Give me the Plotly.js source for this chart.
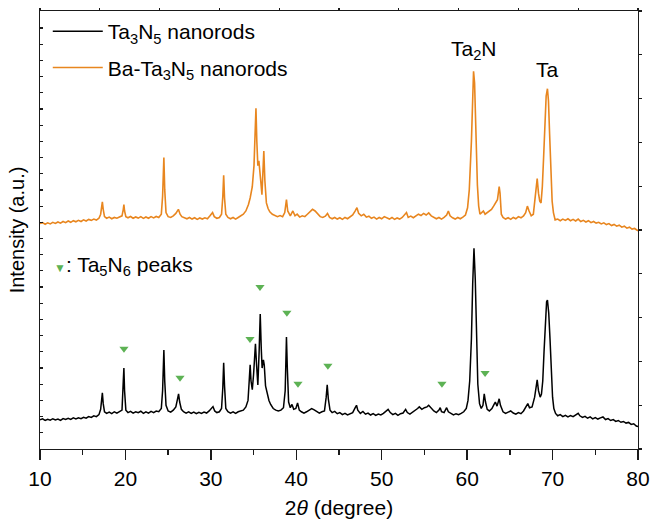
<!DOCTYPE html>
<html>
<head>
<meta charset="utf-8">
<script src="https://cdn.plot.ly/plotly-3.0.1.min.js"></script>
<style>html,body{margin:0;padding:0;background:#fff;}#chart{width:652px;height:519px;}</style>
</head>
<body>
<div id="chart"></div>
<script>
// ---- Data (2θ in degrees, intensity in a.u.) ----
const xTa3N5 = [10.0,10.3,10.6,10.9,11.2,11.5,11.8,12.1,12.4,12.7,13.0,13.3,13.6,13.9,14.2,14.5,14.8,15.1,15.4,15.7,16.0,16.3,16.6,16.9,17.1,17.2,17.3,17.4,17.55,17.8,18.1,18.4,18.7,19.0,19.3,19.6,19.75,19.82,19.9,20.05,20.3,20.6,20.9,21.2,21.5,21.8,22.1,22.4,22.7,23.0,23.3,23.6,23.9,24.2,24.35,24.5,24.6,24.75,25.0,25.3,25.6,25.9,26.1,26.22,26.35,26.55,26.8,27.1,27.4,27.7,28.0,28.3,28.6,28.9,29.2,29.5,29.8,30.1,30.25,30.45,30.7,31.0,31.25,31.4,31.5,31.6,31.75,32.0,32.3,32.6,32.9,33.2,33.5,33.8,34.1,34.35,34.5,34.6,34.7,34.85,35.0,35.15,35.22,35.35,35.5,35.65,35.78,35.9,36.0,36.15,36.25,36.4,36.6,36.8,37.0,37.3,37.6,37.9,38.2,38.5,38.7,38.85,38.95,39.1,39.3,39.5,39.7,39.95,40.15,40.35,40.6,40.9,41.2,41.5,41.8,42.1,42.4,42.7,43.0,43.3,43.5,43.62,43.75,43.95,44.2,44.5,44.8,45.1,45.4,45.7,46.0,46.3,46.6,46.9,47.05,47.2,47.5,47.8,48.1,48.4,48.7,49.0,49.3,49.6,49.9,50.2,50.5,50.75,51.0,51.3,51.6,51.9,52.2,52.5,52.8,53.0,53.3,53.6,53.9,54.2,54.4,54.7,55.0,55.3,55.5,55.8,56.1,56.4,56.7,56.85,57.0,57.3,57.6,57.8,58.1,58.4,58.7,59.0,59.3,59.6,59.9,60.1,60.3,60.5,60.65,60.8,60.95,61.1,61.25,61.45,61.65,61.85,62.0,62.15,62.35,62.6,62.9,63.15,63.3,63.5,63.75,63.9,64.2,64.5,64.8,65.1,65.4,65.7,66.0,66.3,66.6,66.9,67.1,67.3,67.6,67.9,68.05,68.2,68.35,68.55,68.7,68.85,69.0,69.15,69.3,69.4,69.55,69.7,69.85,70.0,70.15,70.35,70.6,70.9,71.2,71.5,71.8,72.1,72.4,72.7,73.0,73.2,73.5,73.8,74.1,74.4,74.7,75.0,75.3,75.6,75.9,76.2,76.5,76.8,77.1,77.4,77.7,78.0,78.3,78.6,78.9,79.2,79.5,79.8,80.0];
const yTa3N5 = [1.80,1.86,1.76,1.84,1.78,1.87,1.80,1.85,1.77,1.88,1.82,1.90,1.83,1.92,1.86,1.93,1.87,1.96,1.90,2.00,1.95,2.05,2.00,2.12,2.45,2.9,3.47,2.8,2.3,2.2,2.28,2.18,2.3,2.22,2.32,2.4,4.2,5.0,3.6,2.4,2.25,2.33,2.22,2.3,2.24,2.33,2.2,2.3,2.22,2.32,2.25,2.34,2.3,2.5,3.6,6.12,4.2,2.7,2.35,2.28,2.4,2.6,3.1,3.4,2.9,2.45,2.3,2.22,2.3,2.2,2.28,2.18,2.27,2.2,2.28,2.22,2.35,2.55,2.62,2.35,2.25,2.3,2.5,3.8,5.33,3.9,2.5,2.3,2.22,2.3,2.2,2.3,2.35,2.4,2.6,3.0,4.3,5.2,4.2,3.66,4.6,6.3,6.5,5.2,3.95,6.0,8.34,6.2,5.0,5.5,5.2,3.9,3.4,3.0,2.75,2.5,2.4,2.35,2.4,2.55,3.6,6.92,5.0,2.9,2.55,2.75,2.45,2.5,2.85,2.4,2.3,2.22,2.3,2.4,2.5,2.42,2.3,2.22,2.3,2.35,3.2,3.97,3.1,2.4,2.25,2.32,2.18,2.25,2.12,2.2,2.1,2.18,2.25,2.55,2.7,2.4,2.2,2.32,2.15,2.22,2.1,2.18,2.08,2.16,2.1,2.2,2.35,2.45,2.25,2.12,2.2,2.08,2.18,2.22,2.45,2.25,2.15,2.25,2.35,2.5,2.6,2.45,2.55,2.6,2.7,2.5,2.35,2.25,2.4,2.55,2.3,2.25,2.55,2.3,2.2,2.1,2.18,2.12,2.2,2.3,2.5,3.0,4.2,6.8,10.2,12.4,10.5,6.5,4.0,2.8,2.5,2.7,3.4,2.9,2.45,2.35,2.5,2.75,2.9,2.65,3.1,2.7,2.3,2.2,2.28,2.35,2.22,2.15,2.25,2.18,2.35,2.6,2.8,2.55,2.6,3.2,3.9,4.27,3.6,3.2,3.4,4.2,6.0,8.0,9.1,9.2,8.4,6.8,4.8,3.2,2.5,2.2,2.05,2.12,2.0,2.08,1.98,2.06,2.0,2.1,2.2,2.05,1.95,2.02,1.9,1.98,1.86,1.94,1.85,1.92,1.98,1.82,1.88,1.76,1.82,1.7,1.76,1.65,1.7,1.6,1.64,1.52,1.56,1.42,1.38];

const xBaTa3N5 = [10.0,10.3,10.6,10.9,11.2,11.5,11.8,12.1,12.4,12.7,13.0,13.3,13.6,13.9,14.2,14.5,14.8,15.1,15.4,15.7,16.0,16.3,16.6,16.9,17.1,17.2,17.3,17.4,17.55,17.8,18.1,18.4,18.7,19.0,19.3,19.6,19.75,19.82,19.9,20.05,20.3,20.6,20.9,21.2,21.5,21.8,22.1,22.4,22.7,23.0,23.3,23.6,23.9,24.2,24.35,24.5,24.6,24.75,25.0,25.3,25.6,25.9,26.2,26.4,26.6,26.9,27.2,27.5,27.8,28.1,28.4,28.7,29.0,29.3,29.6,29.9,30.2,30.4,30.7,31.0,31.25,31.4,31.5,31.6,31.75,32.0,32.3,32.6,32.9,33.2,33.5,33.8,34.1,34.4,34.6,34.85,35.05,35.2,35.28,35.38,35.5,35.62,35.72,35.85,35.98,36.1,36.2,36.32,36.5,36.7,36.9,37.2,37.5,37.8,38.1,38.4,38.65,38.85,39.0,39.3,39.6,39.85,40.1,40.4,40.7,41.0,41.3,41.6,41.9,42.2,42.5,42.8,43.1,43.4,43.65,43.9,44.2,44.5,44.8,45.1,45.4,45.7,46.0,46.3,46.6,46.9,47.1,47.3,47.6,47.9,48.2,48.5,48.8,49.1,49.4,49.7,50.0,50.3,50.6,50.9,51.2,51.5,51.8,52.1,52.4,52.7,52.9,53.1,53.4,53.7,54.0,54.3,54.6,54.9,55.2,55.5,55.8,56.1,56.4,56.7,57.0,57.3,57.6,57.8,58.0,58.3,58.6,58.9,59.2,59.5,59.8,60.05,60.25,60.5,60.62,60.75,60.87,61.05,61.2,61.35,61.5,61.7,61.9,62.1,62.35,62.6,62.85,63.1,63.35,63.55,63.75,63.85,64.0,64.2,64.5,64.8,65.1,65.4,65.7,66.0,66.3,66.6,66.85,67.05,67.25,67.5,67.75,67.95,68.1,68.2,68.35,68.5,68.65,68.8,68.95,69.1,69.25,69.4,69.52,69.65,69.8,69.95,70.1,70.3,70.6,70.9,71.2,71.5,71.8,72.1,72.4,72.7,73.0,73.3,73.6,73.9,74.2,74.5,74.8,75.1,75.4,75.7,76.0,76.3,76.6,76.9,77.2,77.5,77.8,78.1,78.4,78.7,79.0,79.3,79.6,79.8,80.0];
const yBaTa3N5 = [13.92,13.98,13.88,13.97,13.9,14.0,13.93,14.02,13.95,14.05,13.98,14.08,14.0,14.1,14.03,14.12,14.05,14.15,14.08,14.18,14.12,14.2,14.14,14.25,14.5,14.9,15.27,14.8,14.35,14.25,14.32,14.22,14.3,14.25,14.35,14.4,14.8,15.1,14.7,14.35,14.28,14.36,14.25,14.33,14.26,14.35,14.24,14.33,14.25,14.35,14.27,14.36,14.3,14.5,15.6,18.0,16.0,14.6,14.35,14.3,14.4,14.55,14.8,14.5,14.35,14.28,14.22,14.3,14.2,14.28,14.18,14.27,14.2,14.28,14.22,14.4,14.6,14.35,14.25,14.3,14.5,15.6,16.9,15.5,14.5,14.3,14.22,14.3,14.2,14.3,14.38,14.5,14.7,15.1,15.5,16.2,17.5,20.0,21.04,19.0,17.5,17.8,17.0,16.5,15.7,17.0,18.4,16.6,15.2,14.85,14.65,14.5,14.4,14.35,14.42,14.35,14.6,15.4,14.7,14.4,14.7,14.4,14.5,14.32,14.4,14.35,14.5,14.65,14.8,14.7,14.5,14.35,14.3,14.38,14.55,14.3,14.22,14.3,14.2,14.28,14.18,14.3,14.22,14.35,14.45,14.7,14.9,14.55,14.4,14.5,14.32,14.38,14.25,14.32,14.2,14.3,14.22,14.35,14.28,14.2,14.3,14.18,14.27,14.2,14.3,14.45,14.6,14.3,14.38,14.28,14.4,14.5,14.42,14.55,14.45,14.58,14.4,14.3,14.22,14.3,14.2,14.3,14.45,14.7,14.4,14.28,14.2,14.3,14.22,14.32,14.45,14.9,16.0,19.0,21.8,23.33,22.6,18.8,16.3,15.0,14.5,14.6,14.7,14.5,14.6,14.75,14.8,15.0,15.2,15.4,16.2,15.8,14.5,14.3,14.2,14.28,14.18,14.3,14.22,14.35,14.28,14.4,14.6,15.0,14.7,14.4,14.5,15.5,16.5,16.7,15.8,15.3,15.2,16.2,18.0,20.5,21.8,22.25,21.5,19.5,17.0,15.3,14.6,14.15,14.2,14.1,14.2,14.12,14.22,14.1,14.18,14.08,14.2,14.05,14.12,14.02,14.1,13.98,14.05,13.95,14.0,13.9,13.97,13.86,13.92,13.8,13.87,13.76,13.82,13.7,13.76,13.64,13.7,13.58,13.62,13.52,13.48];

// Ta5N6 peak markers
const xTa5N6 = [19.83, 26.39, 34.58, 35.75, 38.9, 40.2, 43.7, 57.05, 62.1];
const yTa5N6 = [6.19, 4.40, 6.80, 10.01, 8.41, 4.03, 5.14, 4.03, 4.70];

// Phase labels on the Ba-Ta3N5 pattern
const phaseLabels = ['Ta<sub>2</sub>N', 'Ta'];
const phaseX = [60.8, 69.4];
const phaseY = [23.7, 22.6];

const seriesNames = ['Ta<sub>3</sub>N<sub>5</sub> nanorods', 'Ba-Ta<sub>3</sub>N<sub>5</sub> nanorods'];
const xTicks = [10, 20, 30, 40, 50, 60, 70, 80];

// ---- Styling ----
const FONT = 'Liberation Sans, Arial, Helvetica, sans-serif';
const ORANGE = '#E8861F';
const GREEN = '#5DB254';
const AX = '#1a1a1a';
const FS = 21;

const traces = [
  {x: xTa3N5, y: yTa3N5, type: 'scatter', mode: 'lines', name: seriesNames[0],
   line: {color: '#000000', width: 1.5}, legendgroup: 'a', hoverinfo: 'skip'},
  {x: xBaTa3N5, y: yBaTa3N5, type: 'scatter', mode: 'lines', name: seriesNames[1],
   line: {color: ORANGE, width: 1.6}, legendgroup: 'b', hoverinfo: 'skip'},
  {x: xTa5N6, y: yTa5N6, type: 'scatter', mode: 'markers', showlegend: false,
   marker: {symbol: 'triangle-down', size: 8, color: GREEN}, hoverinfo: 'skip'},
  {x: [null], y: [null], xaxis: 'x2', yaxis: 'y2', type: 'scatter', mode: 'lines', showlegend: false, hoverinfo: 'skip'}
];

const layout = {
  width: 652, height: 519,
  margin: {l: 40, r: 14, t: 11, b: 70},
  paper_bgcolor: '#fff', plot_bgcolor: '#fff',
  font: {family: FONT, size: FS, color: '#000'},
  showlegend: true,
  legend: {x: 0.013, y: 1.0, xanchor: 'left', yanchor: 'top', bgcolor: 'rgba(0,0,0,0)',
           font: {family: FONT, size: FS, color: '#000'}, tracegroupgap: 6, itemwidth: 50},
  xaxis: {range: [10, 80], tickvals: xTicks, ticks: 'outside', ticklen: 10, tickwidth: 1.3, tickcolor: AX,
          showline: true, linecolor: AX, linewidth: 1.3, showgrid: false, zeroline: false,
          tickfont: {family: FONT, size: FS, color: '#000'},
          minor: {dtick: 5, tick0: 10, ticks: 'outside', ticklen: 5, tickwidth: 1.3, tickcolor: AX, showgrid: false},
          title: {text: '2<i>θ</i> (degree)', font: {family: FONT, size: FS, color: '#000'}, standoff: 14}},
  yaxis: {range: [0, 27.05], dtick: 1, tick0: 0, ticks: 'inside', ticklen: 3, tickwidth: 1.2, tickcolor: AX,
          showticklabels: false, showline: true, linecolor: AX, linewidth: 1.3, showgrid: false, zeroline: false,
          title: {text: 'Intensity (a.u.)', font: {family: FONT, size: 20, color: '#000'}, standoff: 8}},
  xaxis2: {overlaying: 'x', side: 'top', anchor: 'y', range: [10, 80], tick0: 10, dtick: 7,
           ticks: 'outside', ticklen: 2, tickwidth: 1.2, tickcolor: AX, showticklabels: false,
           showline: true, linecolor: AX, linewidth: 1.3, showgrid: false, zeroline: false},
  yaxis2: {overlaying: 'y', side: 'right', anchor: 'x', range: [0, 10], dtick: 1, tick0: 0,
           ticks: 'outside', ticklen: 3, tickwidth: 1.2, tickcolor: AX, showticklabels: false,
           showline: true, linecolor: AX, linewidth: 1.3, showgrid: false, zeroline: false},
  annotations: [
    {x: phaseX[0], y: phaseY[0], xref: 'x', yref: 'y', text: phaseLabels[0], showarrow: false,
     xanchor: 'center', yanchor: 'bottom', font: {family: FONT, size: FS, color: '#000'}},
    {x: phaseX[1], y: phaseY[1], xref: 'x', yref: 'y', text: phaseLabels[1], showarrow: false,
     xanchor: 'center', yanchor: 'bottom', font: {family: FONT, size: FS, color: '#000'}},
    {x: 0.02, y: 0.417, xref: 'paper', yref: 'paper', showarrow: false, xanchor: 'left', yanchor: 'middle',
     text: '<span style="color:' + GREEN + ';font-size:12px">▼</span>: Ta<sub>5</sub>N<sub>6</sub> peaks',
     font: {family: FONT, size: FS, color: '#000'}}
  ]
};

Plotly.newPlot('chart', traces, layout, {displayModeBar: false, staticPlot: true});
</script>
</body>
</html>
